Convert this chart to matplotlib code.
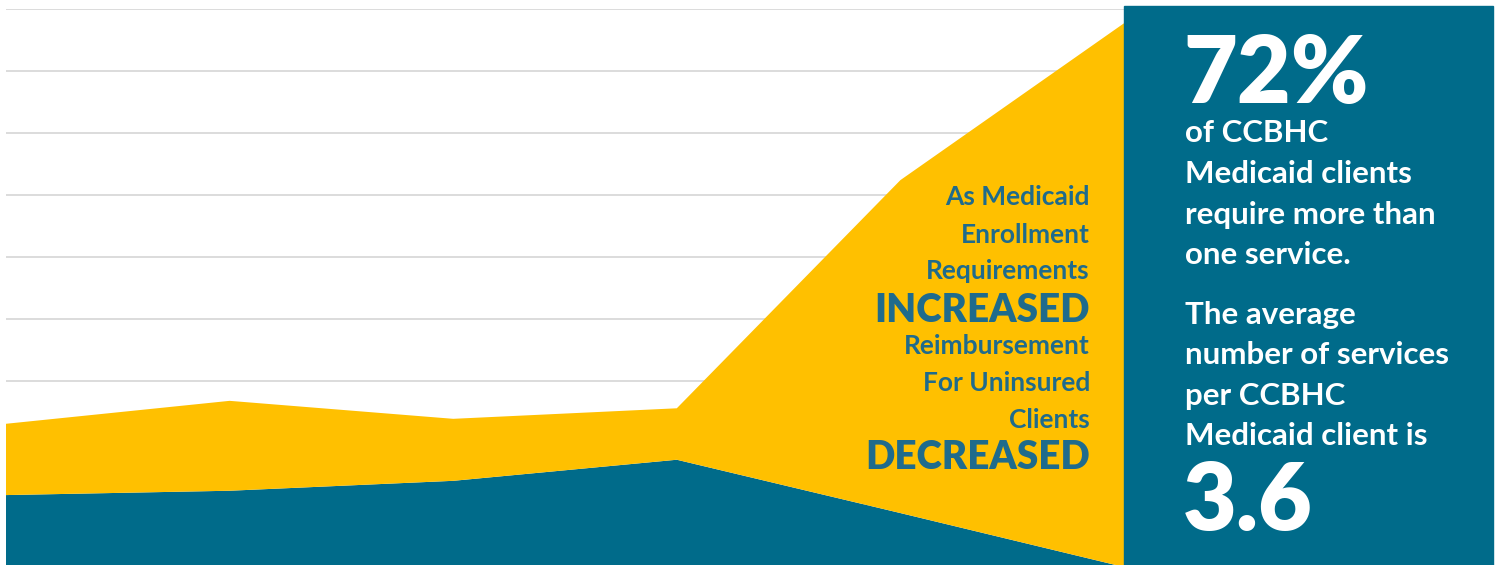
import matplotlib
matplotlib.use("Agg")
import matplotlib.pyplot as plt
from matplotlib.patches import Rectangle
from matplotlib.transforms import Affine2D

####################################################
periods = [0, 1, 2, 3, 4, 5]
medicaid = [1.16, 1.23, 1.39, 1.73, 0.87, 0.0]
uninsured = [1.15, 1.45, 1.00, 0.83, 5.37, 8.77]

left_lines = [
    ("As Medicaid", "normal"),
    ("Enrollment", "normal"),
    ("Requirements", "normal"),
    ("INCREASED", "big"),
    ("Reimbursement", "normal"),
    ("For Uninsured", "normal"),
    ("Clients", "normal"),
    ("DECREASED", "big"),
]
left_baselines = [205, 243, 279, 322, 354, 391, 428, 469]

panel_lines = ["of CCBHC", "Medicaid clients", "require more than", "one service.",
               "The average", "number of services", "per CCBHC", "Medicaid client is"]
panel_baselines = [142, 183, 224, 264, 324, 364, 405, 445]
####################################################

BLUE = "#006b8a"
YELLOW = "#ffc000"
TEXT_BLUE = "#1f6b8c"
W, H = 1499, 565

plt.rcParams["font.family"] = ["Lato", "DejaVu Sans"]

fig = plt.figure(figsize=(W / 100, H / 100), dpi=100)
ax = fig.add_axes([6 / W, -2 / H, 1118 / W, 558 / H])
ax.stackplot(periods, medicaid, uninsured, colors=[BLUE, YELLOW], linewidth=0, zorder=2)
ax.set_xlim(0, 5)
ax.set_ylim(0, 9)
ax.set_yticks(range(1, 10))
ax.yaxis.grid(True, color="#d9d9d9", linewidth=1.3, zorder=1)
ax.set_axisbelow(True)
ax.tick_params(left=False, bottom=False, labelleft=False, labelbottom=False)
for s in ax.spines.values():
    s.set_visible(False)

# pixel transform, origin top-left
px = Affine2D().scale(1 / W, -1 / H).translate(0, 1) + fig.transFigure

fig.patches.append(Rectangle((1124, 6), 369, 560, transform=px, color=BLUE, zorder=0))

for (txt, kind), y in zip(left_lines, left_baselines):
    fig.text(1090, y, txt, transform=px, ha="right", va="baseline", color=TEXT_BLUE,
             fontsize=27.8 if kind == "big" else 19, fontweight="heavy" if kind == "big" else "bold")

fig.text(1183, 103, "72%", transform=px, ha="left", va="baseline", color="white",
         fontsize=67, fontweight="heavy")
for txt, y in zip(panel_lines, panel_baselines):
    fig.text(1185, y, txt, transform=px, ha="left", va="baseline", color="white",
             fontsize=22.5, fontweight="bold")
fig.text(1183, 530, "3.6", transform=px, ha="left", va="baseline", color="white",
         fontsize=67, fontweight="heavy")

fig.savefig("out.png", dpi=100, facecolor="white")
